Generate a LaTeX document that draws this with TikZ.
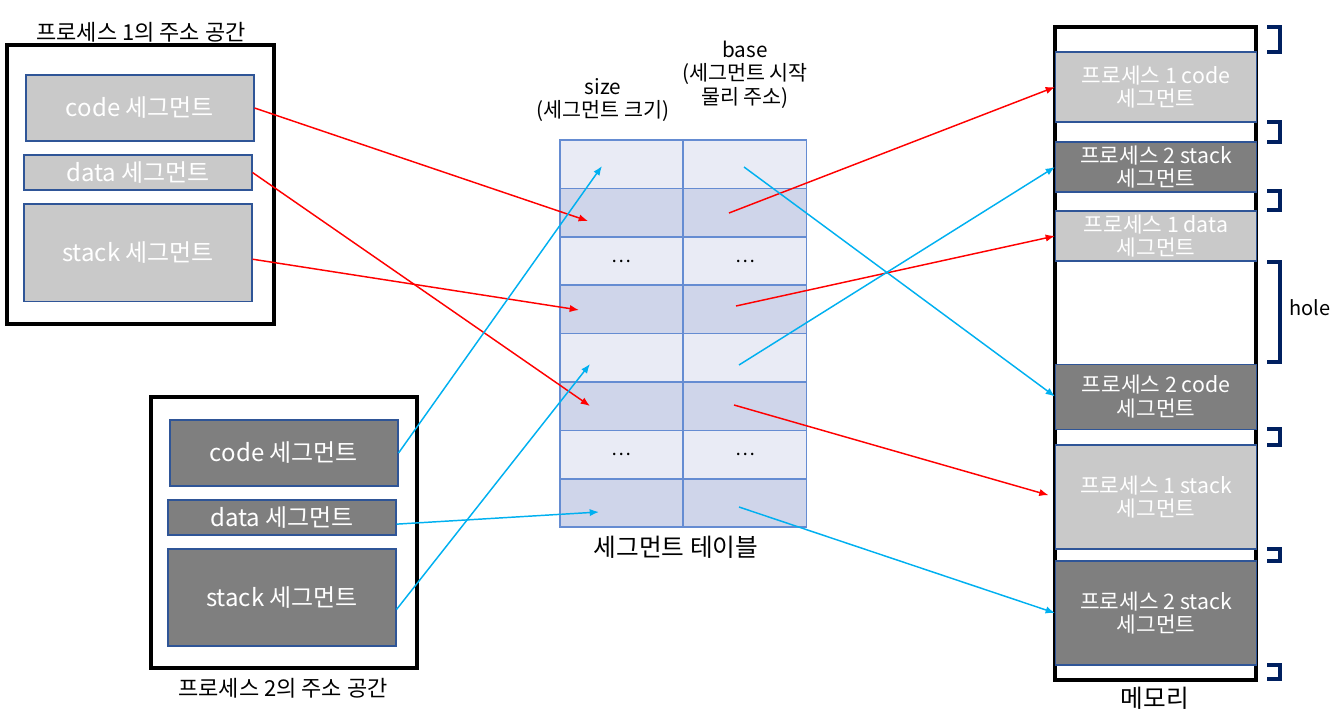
\documentclass[tikz,border=0pt]{standalone}
\usepackage{fontspec}
\setmainfont{Noto Sans CJK KR}
\usepackage{tikz}
\usetikzlibrary{positioning,arrows.meta}

\definecolor{seglight}{HTML}{C9C9C9}
\definecolor{segdark}{HTML}{7F7F7F}
\definecolor{segline}{HTML}{2F5597}
\definecolor{tableline}{HTML}{658CD2}
\definecolor{rowlight}{HTML}{E9EBF5}
\definecolor{rowdark}{HTML}{CFD5EA}
\definecolor{arrowred}{HTML}{FF0000}
\definecolor{arrowblue}{HTML}{00B0F0}
\definecolor{bracketc}{HTML}{002060}

\begin{document}
\begin{tikzpicture}[>={Latex[length=7pt,width=5.5pt]},
  addrspace/.style={draw=black, line width=2.8pt, inner sep=0pt},
  seg/.style={draw=segline, line width=0.8pt, text=white, inner sep=0pt, minimum width=171pt, font=\fontsize{18}{20}\selectfont},
  seg1/.style={seg, fill=seglight},
  seg2/.style={seg, fill=segdark},
  memblk/.style={draw=segline, line width=0.8pt, text=white, inner sep=0pt, minimum width=150.75pt, align=center, font=\fontsize{16}{17.5}\selectfont},
  tcell/.style={draw=tableline, line width=1.1pt, inner sep=0pt, minimum width=92.25pt, minimum height=36.3pt, font=\fontsize{14}{16}\selectfont},
  caption/.style={align=center, font=\fontsize{16.5}{18}\selectfont},
  redarr/.style={->, arrowred, line width=1.1pt},
  bluearr/.style={->, arrowblue, line width=1.1pt},
  brk/.style={bracketc, line width=2.3pt}]
  \useasboundingbox (0pt,0pt) rectangle (999.75pt,-540pt);

  % process 1
  \draw (105.4pt, -138.4pt)node[addrspace, minimum width=200.25pt, minimum height=209.25pt](p1space){};
  \draw (105.75pt, -24pt)node[caption](p1title){프로세스 1의 주소 공간};
  \draw (105pt, -81pt)node[seg1, minimum height=49.5pt](p1code){code 세그먼트};
  \draw (103.5pt, -129.4pt)node[seg1, minimum height=26.25pt](p1data){data 세그먼트};
  \draw (103.5pt, -189.4pt)node[seg1, minimum height=72.75pt](p1stack){stack 세그먼트};

  % process 2
  \draw (213pt, -399.4pt)node[addrspace, minimum width=199.5pt, minimum height=203.25pt](p2space){};
  \draw (212.25pt, -516pt)node[caption](p2title){프로세스 2의 주소 공간};
  \draw (213pt, -339.75pt)node[seg2, minimum height=49.5pt](p2code){code 세그먼트};
  \draw (211.5pt, -388.1pt)node[seg2, minimum height=26.25pt](p2data){data 세그먼트};
  \draw (211.5pt, -448.1pt)node[seg2, minimum height=72.75pt](p2stack){stack 세그먼트};

  % segment table
  \foreach \i/\rowc/\txt in {1/rowlight/{},2/rowdark/{},3/rowlight/{\dots},4/rowdark/{},5/rowlight/{},6/rowdark/{},7/rowlight/{\dots},8/rowdark/{}}{
    \draw (466.1pt, {-105pt-36.3pt*(\i-0.5)})node[tcell, fill=\rowc](s\i){\txt};
    \draw (558.75pt, {-105pt-36.3pt*(\i-0.5)})node[tcell, fill=\rowc](b\i){\txt};
  }
  \draw (452.25pt, -75pt)node[caption, font=\fontsize{15.5}{17.6}\selectfont](sizehead){size\\(세그먼트 크기)};
  \draw (558.75pt, -56pt)node[caption, font=\fontsize{15.5}{17.6}\selectfont](basehead){base\\(세그먼트 시작\\물리 주소)};
  \draw (507pt, -410.25pt)node[caption, font=\fontsize{18.5}{20}\selectfont](tabletitle){세그먼트 테이블};

  % memory
  \draw (866.6pt, -265.1pt)node[addrspace, minimum width=150.75pt, minimum height=489.75pt](memory){};
  \draw (867pt, -65.25pt)node[memblk, fill=seglight, minimum height=52.5pt](m1code){프로세스 1 code\\세그먼트};
  \draw (867pt, -125.25pt)node[memblk, fill=segdark, minimum height=37.5pt](m2stack){프로세스 2 stack\\세그먼트};
  \draw (867pt, -177pt)node[memblk, fill=seglight, minimum height=37.5pt](m1data){프로세스 1 data\\세그먼트};
  \draw (867pt, -297.4pt)node[memblk, fill=segdark, minimum height=48.75pt](m2code){프로세스 2 code\\세그먼트};
  \draw (867pt, -372.75pt)node[memblk, fill=seglight, minimum height=78pt](m1stack){프로세스 1 stack\\세그먼트};
  \draw (867pt, -459.75pt)node[memblk, fill=segdark, minimum height=78pt](m2stackb){프로세스 2 stack\\세그먼트};
  \draw (866.25pt, -523.5pt)node[caption, font=\fontsize{18.5}{20}\selectfont](memtitle){메모리};

  % free gaps
  \foreach \ya/\yb in {-20.25/-39, -91.5/-106.5, -143.25/-157.5, -196.5/-271.5, -321.75/-333.75, -411.75/-420.75, -498.75/-509.25}{
    \draw[brk] (950.5pt, \ya pt) -| (960pt, \yb pt) -- (950.5pt, \yb pt);
  }
  \draw (982.5pt, -231pt)node[caption, font=\fontsize{15}{17}\selectfont](holetext){hole};

  % arrow points inside the table
  \coordinate (s2in) at (441pt, -165.75pt);
  \coordinate (b2out) at (546.75pt, -159.75pt);
  \coordinate (s6in) at (442.5pt, -304.5pt);
  \coordinate (b6out) at (550.5pt, -303.75pt);
  \coordinate (s4in) at (434.25pt, -232.5pt);
  \coordinate (b4out) at (552pt, -229.5pt);
  \coordinate (s1in) at (451.5pt, -124.5pt);
  \coordinate (b1out) at (558pt, -125.25pt);
  \coordinate (s8in) at (449.25pt, -384pt);
  \coordinate (b8out) at (554.25pt, -380.25pt);
  \coordinate (s5in) at (442.5pt, -273pt);
  \coordinate (b5out) at (554.25pt, -273.75pt);

  % process 1 mapping
  \draw[redarr] (p1code.east) -- (s2in);
  \draw[redarr] (b2out) -- (m1code.west);
  \draw[redarr] (p1data.east) -- (s6in);
  \draw[redarr, shorten >=5pt] (b6out) -- (m1stack.west);
  \draw[redarr] ([yshift=-5pt]p1stack.east) -- (s4in);
  \draw[redarr] (b4out) -- (m1data.west);

  % process 2 mapping
  \draw[bluearr] (p2code.east) -- (s1in);
  \draw[bluearr] (b1out) -- (m2code.west);
  \draw[bluearr] ([yshift=-5pt]p2data.east) -- (s8in);
  \draw[bluearr] (b8out) -- (m2stackb.west);
  \draw[bluearr] ([yshift=-9pt]p2stack.east) -- (s5in);
  \draw[bluearr] (b5out) -- (m2stack.west);
\end{tikzpicture}
\end{document}
